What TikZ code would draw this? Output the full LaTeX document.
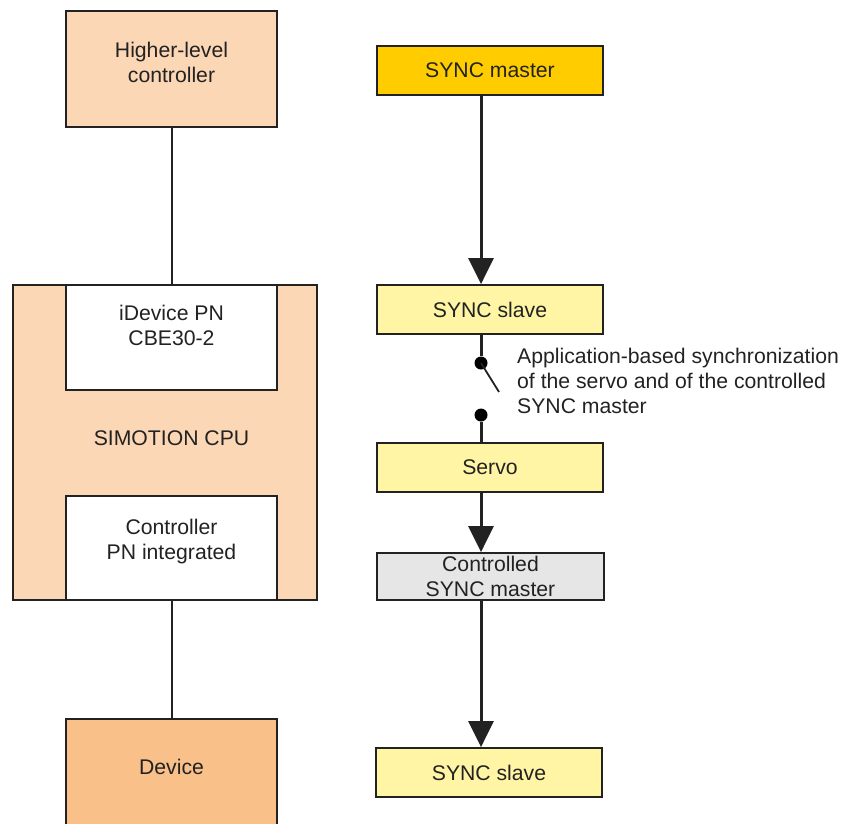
\documentclass[tikz,border=0pt]{standalone}
\usepackage{fontspec}
\setmainfont{Liberation Sans}
\usepackage{tikz}
\usetikzlibrary{calc,arrows.meta}

\definecolor{peach}{RGB}{251,215,181}
\definecolor{devorange}{RGB}{249,192,138}
\definecolor{syncgold}{RGB}{255,204,0}
\definecolor{syncpale}{RGB}{255,245,165}
\definecolor{ctrlgray}{RGB}{230,230,230}
\definecolor{inkgray}{RGB}{34,34,34}

\tikzset{
  box/.style={draw=inkgray, line width=1.8pt, rectangle, inner sep=0pt},
  txt/.style={text=inkgray, font=\fontsize{21.2}{25}\selectfont, align=center, inner sep=0pt},
  link/.style={draw=inkgray, line width=2pt},
  flow/.style={draw=inkgray, line width=3pt, -{Triangle[width=25pt,length=26pt]}}
}

\begin{document}
\begin{tikzpicture}[x=1pt,y=-1pt]
\useasboundingbox (0,0) rectangle (844,823);

            % Left column
            \node[box, fill=peach, minimum width=211pt, minimum height=116pt] (hlc) at (171.5,69) {};
            \node[txt] (hlctext) at (171.5,62) {Higher-level\\controller};

            \node[box, fill=peach, minimum width=304pt, minimum height=315pt] (cpu) at (165,442.5) {};
            \node[txt] (cputext) at (171.5,438) {SIMOTION CPU};

            \node[box, fill=white, minimum width=211pt, minimum height=105pt] (idev) at (171.5,337.5) {};
            \node[txt] (idevtext) at (171.5,325) {iDevice PN\\CBE30-2};

            \node[box, fill=white, minimum width=211pt, minimum height=104pt] (ctrl) at (171.5,548) {};
            \node[txt] (ctrltext) at (171.5,542) {Controller\\PN integrated};

            \node[box, fill=devorange, minimum width=211pt, minimum height=116pt] (dev) at (171.5,777) {};
            \node[txt] (devtext) at (171.5,767) {Device};

            \draw[link] (hlc.south) -- (idev.north);
            \draw[link] (ctrl.south) -- (dev.north);

            % Right column
            \node[box, fill=syncgold, minimum width=226pt, minimum height=49pt, txt] (master) at (490,70.5) {SYNC master};
            \node[box, fill=syncpale, minimum width=226pt, minimum height=49pt, txt] (slaveA) at (490,309.5) {SYNC slave};
            \node[box, fill=syncpale, minimum width=226pt, minimum height=49pt, txt] (servo) at (490,467.5) {Servo};
            \node[box, fill=ctrlgray, minimum width=227pt, minimum height=47pt, txt] (cmaster) at (490.5,576.5) {Controlled\\SYNC master};
            \node[box, fill=syncpale, minimum width=226pt, minimum height=49pt, txt] (slaveB) at (489,772.5) {SYNC slave};

            % Switch
            \node[circle, fill=black, minimum size=13pt, inner sep=0pt] (dotA) at (481,363) {};
            \node[circle, fill=black, minimum size=13pt, inner sep=0pt] (dotB) at (481,415) {};
            \coordinate (blade) at (499,392);

            \draw[flow] (master.south -| dotA) -- (slaveA.north -| dotA);
            \draw[inkgray, line width=3pt] (slaveA.south -| dotA) -- (dotA);
            \draw[inkgray, line width=1.8pt] (dotA.center) -- (blade);
            \draw[inkgray, line width=3pt] (dotB) -- (servo.north -| dotB);
            \draw[flow] (servo.south -| dotA) -- (cmaster.north -| dotA);
            \draw[flow] (cmaster.south -| dotA) -- (slaveB.north -| dotA);

            % Labels
            \node[txt, align=left, anchor=west] (synctext) at (517,381) {Application-based synchronization\\of the servo and of the controlled\\SYNC master};
\end{tikzpicture}
\end{document}
